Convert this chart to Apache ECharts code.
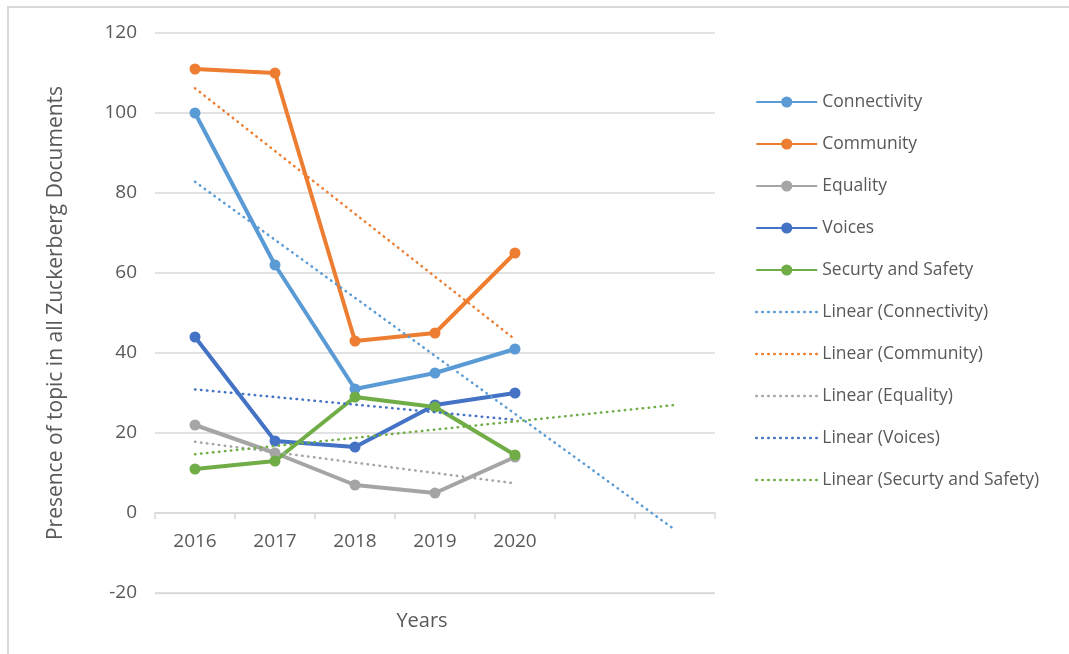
<!DOCTYPE html>
<html>
<head>
<meta charset="utf-8">
<title>Presence of topics in Zuckerberg documents</title>
<script src="https://cdn.jsdelivr.net/npm/echarts@6/dist/echarts.min.js"></script>
<style>
  html, body { margin: 0; padding: 0; background: #fff; }
  #chart { width: 1069px; height: 654px; }
</style>
</head>
<body>
<div id="chart"></div>
<script>
// Years on the category axis; two empty slots carry the forecast of the trend lines
const categories = ['2016', '2017', '2018', '2019', '2020', '', ''];

const seriesNames = ['Connectivity', 'Community', 'Equality', 'Voices', 'Securty and Safety'];
const connectivity = [100, 62, 31, 35, 41];
const community = [111, 110, 43, 45, 65];
const equality = [22, 15, 7, 5, 14];
const voices = [44, 18, 16.5, 27, 30];
const security = [11, 13, 29, 26.5, 14.5];

// Linear trend lines: value at 2016, value at the last category they reach, and that category's index
const trendStart = [82.8, 106.2, 17.8, 30.9, 14.7];
const trendEnd = [-4.2, 43.4, 7.4, 23.3, 27.0];
const trendEndIndex = [6, 4, 4, 4, 6];

const yTicks = { min: -20, max: 120, interval: 20 };

const colors = ['#5B9BD5', '#ED7D31', '#A5A5A5', '#4472C4', '#70AD47'];
const values = [connectivity, community, equality, voices, security];
const textColor = '#595959';
const gridColor = '#d9d9d9';
const fontFamily = '"Open Sans", "Liberation Sans", sans-serif';
const dotted = [0.5, 5.5];

// Plot box in pixels; the category axis sits on the zero line inside it
const W = 1069, H = 654;
const plot = { left: 155, right: 354, top: 33, bottom: 61 };
const plotHeight = H - plot.top - plot.bottom;
const zeroOffset = -plotHeight * (0 - yTicks.min) / (yTicks.max - yTicks.min);

const mainSeries = seriesNames.map((name, i) => ({
  name: name,
  type: 'line',
  data: values[i],
  symbol: 'circle',
  symbolSize: 11,
  z: 3,
  lineStyle: { color: colors[i], width: 4 },
  itemStyle: { color: colors[i] },
  emphasis: { disabled: true }
}));

const trendSeries = seriesNames.map((name, i) => ({
  name: 'Linear (' + name + ')',
  type: 'line',
  data: [[0, trendStart[i]], [trendEndIndex[i], trendEnd[i]]],
  symbol: 'none',
  z: 4,
  lineStyle: { color: colors[i], width: 2.5, type: dotted, cap: 'round' },
  itemStyle: { color: colors[i] },
  emphasis: { disabled: true }
}));

const legendData = mainSeries.map(s => ({ name: s.name }))
  .concat(trendSeries.map(s => ({
    name: s.name,
    itemStyle: { opacity: 0 },
    lineStyle: { width: 2.5, type: dotted, cap: 'round' }
  })));

const frame = {
  type: 'polyline',
  id: 'frame',
  silent: true,
  shape: { points: [[8, H], [8, 7], [W, 7]] },
  style: { stroke: gridColor, lineWidth: 2, fill: null }
};

const chart = echarts.init(document.getElementById('chart'));
chart.setOption({
  animation: false,
  backgroundColor: '#ffffff',
  textStyle: { fontFamily: fontFamily },
  grid: {
    left: plot.left, right: plot.right, top: plot.top, bottom: plot.bottom,
    containLabel: false, outerBoundsMode: 'none'
  },
  xAxis: {
    type: 'category',
    data: categories,
    boundaryGap: true,
    offset: zeroOffset,
    name: 'Years',
    nameLocation: 'middle',
    nameGap: 98,
    nameTextStyle: { color: textColor, fontSize: 20, fontFamily: fontFamily, padding: [0, 26, 0, 0] },
    axisLine: { onZero: false, lineStyle: { color: gridColor, width: 1.5 } },
    axisTick: { show: true, length: 6, lineStyle: { color: gridColor, width: 1.5 } },
    axisLabel: { color: textColor, fontSize: 19, margin: 19, fontFamily: fontFamily },
    splitLine: { show: false }
  },
  yAxis: {
    type: 'value',
    min: yTicks.min,
    max: yTicks.max,
    interval: yTicks.interval,
    name: 'Presence of topic in all Zuckerberg Documents',
    nameLocation: 'middle',
    nameGap: 88,
    nameTextStyle: { color: textColor, fontSize: 21, fontFamily: fontFamily },
    axisLine: { show: false },
    axisTick: { show: false },
    axisLabel: { color: textColor, fontSize: 19, margin: 18, fontFamily: fontFamily },
    splitLine: { showMinLine: true, showMaxLine: true, lineStyle: { color: gridColor, width: 1.5 } }
  },
  legend: {
    orient: 'vertical',
    left: 755,
    top: 92,
    padding: 0,
    itemWidth: 61,
    itemHeight: 14,
    itemGap: 22,
    textStyle: { color: textColor, fontSize: 17.5, lineHeight: 20, fontFamily: fontFamily },
    data: legendData
  },
  graphic: [frame],
  series: mainSeries.concat(trendSeries)
});

// Gridline at the axis minimum, placed through the value axis scale
const yMinPx = Math.round(chart.convertToPixel({ yAxisIndex: 0 }, yTicks.min)) + 0.5;
chart.setOption({
  graphic: [
    frame,
    {
      type: 'line',
      id: 'minGridline',
      silent: true,
      z: 1,
      shape: { x1: plot.left, y1: yMinPx, x2: W - plot.right, y2: yMinPx },
      style: { stroke: gridColor, lineWidth: 1.5 }
    }
  ]
});
</script>
</body>
</html>
